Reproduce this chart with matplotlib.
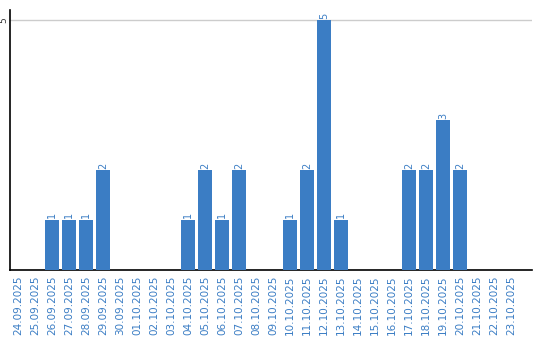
import matplotlib
matplotlib.use("Agg")
import matplotlib.pyplot as plt
import numpy as np

dates = [
    "24.09.2025", "25.09.2025", "26.09.2025", "27.09.2025", "28.09.2025",
    "29.09.2025", "30.09.2025", "01.10.2025", "02.10.2025", "03.10.2025",
    "04.10.2025", "05.10.2025", "06.10.2025", "07.10.2025", "08.10.2025",
    "09.10.2025", "10.10.2025", "11.10.2025", "12.10.2025", "13.10.2025",
    "14.10.2025", "15.10.2025", "16.10.2025", "17.10.2025", "18.10.2025",
    "19.10.2025", "20.10.2025", "21.10.2025", "22.10.2025", "23.10.2025",
]
counts = [0, 0, 1, 1, 1, 2, 0, 0, 0, 0,
          1, 2, 1, 2, 0, 0, 1, 2, 5, 1,
          0, 0, 0, 2, 2, 3, 2, 0, 0, 0]

blue = "#3b7dc4"

fig = plt.figure(figsize=(5.4, 3.4), dpi=100)
ax = fig.add_axes([10 / 540, 70 / 340, 522 / 540, 260 / 340])

x = np.arange(len(dates))
bars = ax.bar(x, counts, width=0.82, color=blue, zorder=3)

for rect, v in zip(bars, counts):
    if v > 0:
        ax.text(rect.get_x() + rect.get_width() / 2, v + 0.03, str(v),
                rotation=90, ha="center", va="bottom", fontsize=7, color=blue)

# bars don't fill the full width on the right side
ax.set_xlim(-0.47, 30.24)
ax.set_ylim(0, 5.2)
ax.set_yticks([5])
ax.set_yticklabels(["5"], rotation=90, va="center", fontsize=6.5, color="#333333")
ax.yaxis.grid(True, color="#cccccc", linewidth=1, zorder=0)
ax.tick_params(axis="y", length=0, pad=1)

ax.set_xticks(x)
ax.set_xticklabels(dates, rotation=90, fontsize=7.5, color=blue)
ax.tick_params(axis="x", length=0, pad=4)

ax.spines["top"].set_visible(False)
ax.spines["right"].set_visible(False)
ax.spines["left"].set_linewidth(1.2)
ax.spines["bottom"].set_linewidth(1.2)

fig.savefig("out.png", dpi=100)
